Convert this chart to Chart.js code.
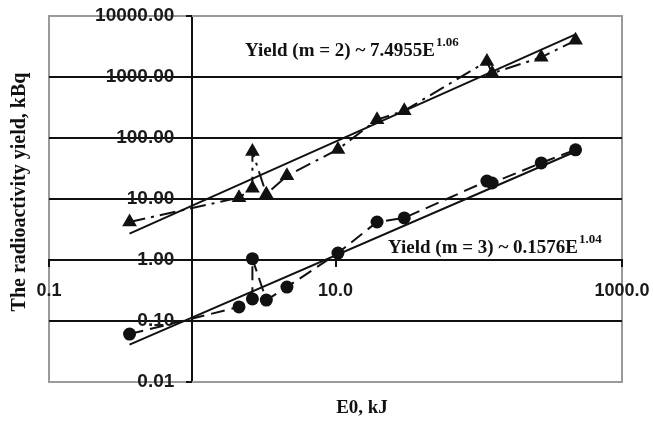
<!DOCTYPE html>
<html>
<head>
<meta charset="utf-8">
<script src="https://cdn.jsdelivr.net/npm/chart.js@4/dist/chart.umd.min.js"></script>
<style>
  html, body { margin: 0; padding: 0; background: #ffffff; }
  #wrap { width: 653px; height: 423px; position: relative; }
</style>
</head>
<body>
<div id="wrap"><canvas id="c" width="653" height="423"></canvas></div>
<script>
// ---- data ----
const energy = [0.365, 2.12, 2.63, 2.63, 3.29, 4.58, 10.4, 19.5, 30.2, 114, 124, 273, 474];
const yieldM2 = [4.2, 10.5, 15, 60, 12, 24, 65, 200, 280, 1800, 1150, 2100, 4000];
const yieldM3 = [0.061, 0.17, 0.23, 1.05, 0.22, 0.36, 1.3, 4.2, 4.9, 19.7, 18.3, 39, 64];
const fitEnergy = [0.365, 474];
const fitM2 = [2.7, 5000];
const fitM3 = [0.041, 60];
const xTickValues = [0.1, 1, 10, 100, 1000];
const xTickLabels = ['0.1', '', '10.0', '', '1000.0'];
const yTickValues = [0.01, 0.1, 1, 10, 100, 1000, 10000];
const yTickLabels = ['0.01', '0.10', '1.00', '10.00', '100.00', '1000.00', '10000.00'];
const xTitle = 'E0, kJ';
const yTitle = 'The radioactivity yield, kBq';
const noteM2 = ['Yield (m = 2) ~ 7.4955E', '1.06'];
const noteM3 = ['Yield (m = 3) ~ 0.1576E', '1.04'];

const INK = '#111111';
const FRAME = '#9a9a9a';
const CLEAR = 'rgba(0,0,0,0)';
const SERIF = '"Liberation Serif", "Times New Roman", serif';
const SANS = '"Liberation Sans", Arial, sans-serif';

const pts = (xs, ys) => xs.map((x, i) => ({ x: x, y: ys[i] }));
const xLabelled = v => { const i = xTickValues.indexOf(v); return i >= 0 && xTickLabels[i] !== ''; };

const framePlugin = {
  id: 'frame',
  beforeDraw(chart) {
    const { ctx, chartArea: a } = chart;
    ctx.save();
    ctx.fillStyle = '#ffffff';
    ctx.fillRect(0, 0, chart.width, chart.height);
    ctx.strokeStyle = FRAME;
    ctx.lineWidth = 2;
    ctx.strokeRect(a.left, a.top, a.right - a.left, a.bottom - a.top);
    ctx.restore();
  },
  afterDraw(chart) {
    const { ctx } = chart;
    const sx = chart.scales.x, sy = chart.scales.y;
    ctx.save();
    // small tick marks of the value axis at its two ends
    const ax = Math.round(sx.getPixelForValue(1));
    ctx.strokeStyle = INK;
    ctx.lineWidth = 2;
    [yTickValues[0], yTickValues[yTickValues.length - 1]].forEach(v => {
      const py = Math.round(sy.getPixelForValue(v));
      ctx.beginPath();
      ctx.moveTo(ax - 6, py);
      ctx.lineTo(ax, py);
      ctx.stroke();
    });
    ctx.fillStyle = INK;
    // y title
    ctx.save();
    ctx.translate(20, 192);
    ctx.rotate(-Math.PI / 2);
    ctx.font = 'bold 20px ' + SERIF;
    ctx.textAlign = 'center';
    ctx.textBaseline = 'middle';
    ctx.fillText(yTitle, 0, 0);
    ctx.restore();
    // x title
    ctx.font = 'bold 19px ' + SERIF;
    ctx.textAlign = 'center';
    ctx.textBaseline = 'alphabetic';
    ctx.fillText(xTitle, 362, 413);
    // annotations
    const note = (parts, x, y) => {
      ctx.font = 'bold 19px ' + SERIF;
      ctx.textAlign = 'left';
      ctx.fillText(parts[0], x, y);
      const w = ctx.measureText(parts[0]).width;
      ctx.font = 'bold 13px ' + SERIF;
      ctx.fillText(parts[1], x + w + 1, y - 10);
    };
    note(noteM2, 245, 56);
    note(noteM3, 388, 253);
    ctx.restore();
  }
};

new Chart(document.getElementById('c'), {
  type: 'line',
  data: {
    datasets: [
      {
        label: 'm = 2',
        data: pts(energy, yieldM2),
        borderColor: INK,
        backgroundColor: INK,
        borderWidth: 2,
        borderDash: [16, 6, 3, 6],
        pointStyle: 'triangle',
        pointRadius: 8.5,
        pointBorderWidth: 0,
        tension: 0
      },
      {
        label: 'm = 3',
        data: pts(energy, yieldM3),
        borderColor: INK,
        backgroundColor: INK,
        borderWidth: 2,
        borderDash: [14, 7],
        pointStyle: 'circle',
        pointRadius: 6.5,
        pointBorderWidth: 0,
        tension: 0
      },
      {
        label: 'fit m = 2',
        data: pts(fitEnergy, fitM2),
        borderColor: INK,
        borderWidth: 2,
        pointRadius: 0
      },
      {
        label: 'fit m = 3',
        data: pts(fitEnergy, fitM3),
        borderColor: INK,
        borderWidth: 2,
        pointRadius: 0
      }
    ]
  },
  options: {
    responsive: false,
    animation: false,
    events: [],
    layout: { padding: { left: 49, right: 31, top: 16, bottom: 41 } },
    plugins: { legend: { display: false }, tooltip: { enabled: false } },
    scales: {
      x: {
        type: 'logarithmic',
        min: 0.1, max: 1000,
        position: { y: 1 },
        afterBuildTicks: s => { s.ticks = xTickValues.map(v => ({ value: v })); },
        ticks: {
          autoSkip: false, maxRotation: 0,
          callback: (v, i) => xTickLabels[i],
          font: { family: SANS, size: 18, weight: 'bold', lineHeight: 2.48 },
          color: '#1a1a1a',
          padding: 3
        },
        grid: {
          drawOnChartArea: true,
          drawTicks: true,
          tickLength: 6,
          lineWidth: 2,
          color: c => (c.tick && c.tick.value === 1) ? INK : CLEAR,
          tickColor: c => (c.tick && xLabelled(c.tick.value)) ? INK : CLEAR
        },
        border: { display: true, color: INK, width: 2 }
      },
      y: {
        type: 'logarithmic',
        min: 0.01, max: 10000,
        position: { x: 0.75 },
        afterBuildTicks: s => { s.ticks = yTickValues.map(v => ({ value: v })); },
        ticks: {
          autoSkip: false,
          callback: (v, i) => yTickLabels[i],
          font: { family: SANS, size: 19, weight: 'bold' },
          color: '#1a1a1a',
          padding: 0
        },
        grid: {
          drawTicks: false,
          lineWidth: 2,
          color: c => (c.tick && (c.tick.value === 0.01 || c.tick.value === 10000)) ? FRAME : INK
        },
        border: { display: false }
      }
    }
  },
  plugins: [framePlugin]
});
</script>
</body>
</html>
